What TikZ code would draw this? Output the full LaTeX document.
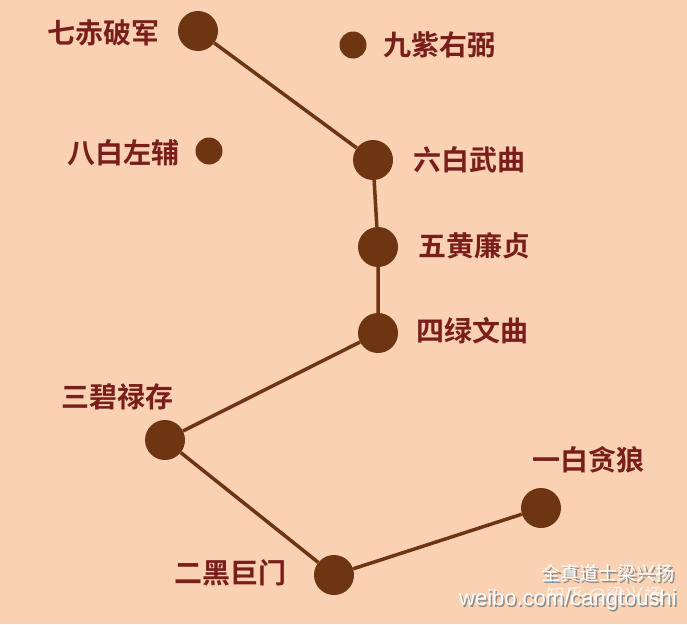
\documentclass[tikz,border=0pt]{standalone}
\usepackage{fontspec}
\newfontfamily\cjk{Noto Sans CJK SC Bold}
\newfontfamily\cjkw{Noto Sans CJK SC}
\setsansfont{Liberation Sans}
\definecolor{bg}{HTML}{FAD2B3}
\definecolor{star}{HTML}{6E3512}
\definecolor{lbl}{HTML}{7A1E1C}
\newcommand{\shadowtxt}[1]{\makebox[0pt][l]{\raisebox{-1.5pt}{\hspace{1.5pt}\textcolor{black!45}{#1}}}\textcolor{white}{#1}}
\begin{document}
\begin{tikzpicture}[x=1pt,y=-1pt,
  big/.style={circle,fill=star,minimum size=40pt,inner sep=0pt},
  small/.style={circle,fill=star,minimum size=27pt,inner sep=0pt},
  lab/.style={text=lbl,font=\cjk\fontsize{28}{28}\selectfont,inner sep=0pt},
  link/.style={draw=star,line width=3.5pt},
  wm/.style={inner sep=0pt}]
\fill[bg] (0,0) rectangle (687,624);
\useasboundingbox (0,0) rectangle (687,624);
\node[big] (s7) at (198,31) {};
\node[small] (s9) at (353,45) {};
\node[small] (s8) at (209,151) {};
\node[big] (s6) at (373,160) {};
\node[big] (s5) at (378,247) {};
\node[big] (s4) at (378,333) {};
\node[big] (s3) at (165,440) {};
\node[big] (s2) at (334,575) {};
\node[big] (s1) at (541,508) {};
\draw[link] (s7) -- (s6) -- (s5) -- (s4) -- (s3) -- (s2) -- (s1);
\node[lab] (l7) at (103,33) {七赤破军};
\node[lab] (l9) at (439,45) {九紫右弼};
\node[lab] (l8) at (123,153) {八白左辅};
\node[lab] (l6) at (469,160) {六白武曲};
\node[lab] (l5) at (474,246) {五黄廉贞};
\node[lab] (l4) at (472,331) {四绿文曲};
\node[lab] (l3) at (117,397) {三碧禄存};
\node[lab] (l2) at (230,573) {二黑巨门};
\node[lab] (l1) at (588,460) {一白贪狼};
\node[wm] (w1) at (608,574) {\cjkw\fontsize{19}{19}\selectfont\shadowtxt{全真道士梁兴扬}};
\node[wm,text=white!65!bg] (w2) at (605,596) {\cjkw\fontsize{19}{19}\selectfont 知乎 @梁兴扬};
\node[wm] (w3) at (568,601) {\sffamily\fontsize{22}{22}\selectfont\shadowtxt{weibo.com/cangtoushi}};
\end{tikzpicture}
\end{document}
